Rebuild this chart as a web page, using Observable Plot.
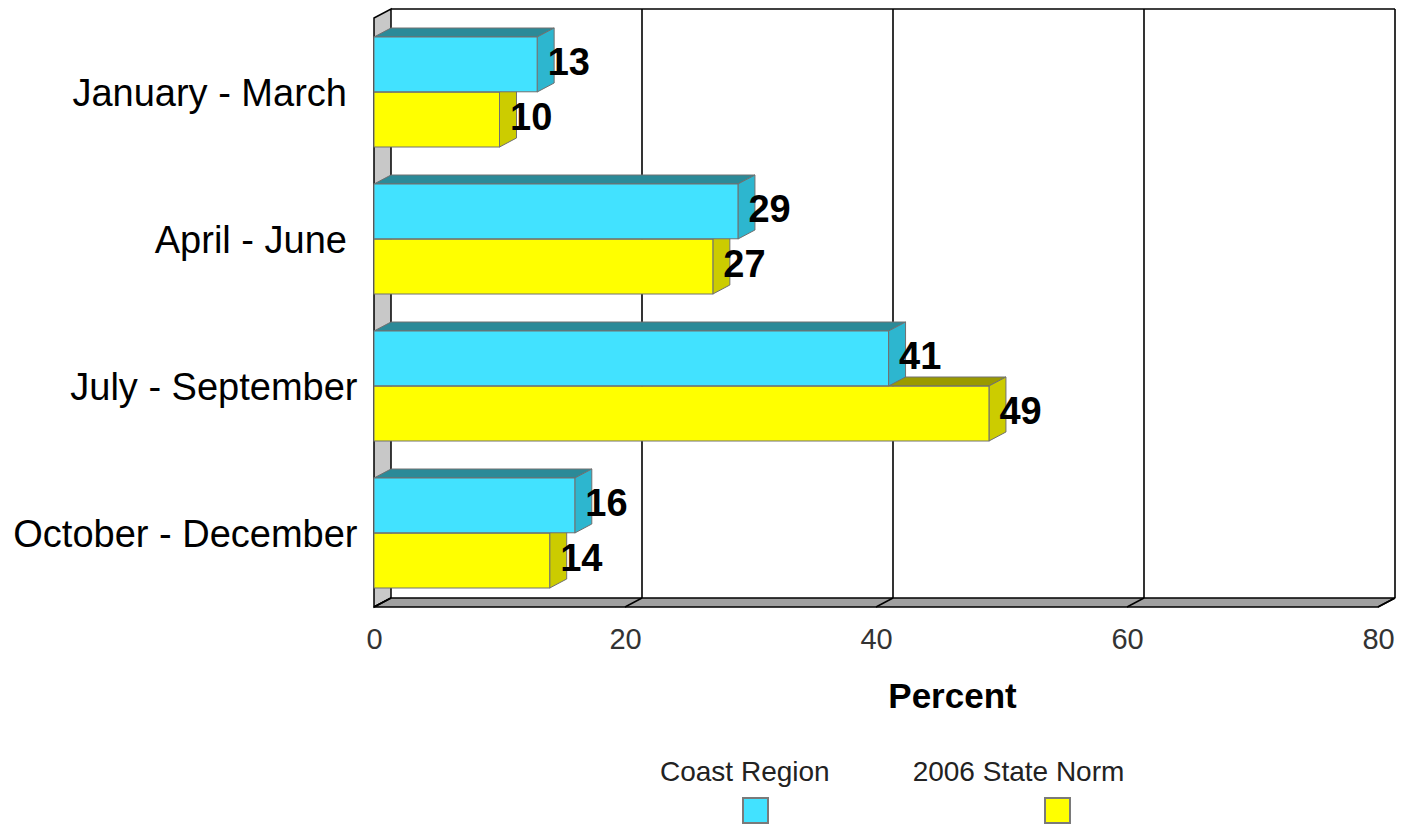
<!DOCTYPE html>
<html><head><meta charset="utf-8">
<script src="https://cdn.jsdelivr.net/npm/d3@7"></script>
<script src="https://cdn.jsdelivr.net/npm/@observablehq/plot@0.6"></script>
<style>
body{margin:0;background:#fff;font-family:"Liberation Sans",Arial,sans-serif;}
#legendText{display:flex;padding-left:660px;gap:83px;margin-top:11px;font-size:28px;color:#222;line-height:32px;}
#legendSw{display:flex;padding-left:742px;gap:275px;margin-top:9px;}
.sw{width:23px;height:23px;border:2px solid #7a7a7a;}
</style></head><body><div id="chart"></div><div id="legendText"></div><div id="legendSw"></div>
<script>
// ---- data ----
const categories = ["January - March\u00a0", "April - June\u00a0", "July - September", "October - December"];
const seriesNames = ["Coast Region", "2006 State Norm"];
const coastValues = [13, 29, 41, 16];
const normValues = [10, 27, 49, 14];
const xTicks = [0, 20, 40, 60, 80];
const xLabel = "Percent";

// ---- style options ----
const frontColors = ["#42e2ff", "#ffff00"];
const topColors = ["#2b8a98", "#9a9a00"];
const sideColors = ["#2db6cf", "#cccc00"];
const DX = 17, DY = -9;
const W = 1403, H = 745, mTop = 18, mBottom = 138, mLeft = 374, mRight = 25;
const padIn = 0.25, padOut = 0.125;
const step = (H - mTop - mBottom) / (categories.length - padIn + 2 * padOut);
const bw = step * (1 - padIn);

const data = [];
categories.forEach((c, i) => {
  data.push({category: c, series: seriesNames[0], value: coastValues[i]});
  data.push({category: c, series: seriesNames[1], value: normValues[i]});
});

function backdrop(index, scales, values, dim) {
  const x = scales.x;
  const y0 = dim.marginTop, y1 = dim.height - dim.marginBottom;
  const xa = x(xTicks[0]), xb = x(xTicks[xTicks.length - 1]);
  const g = d3.create("svg:g");
  for (const t of xTicks.slice(1)) {
    g.append("line").attr("x1", x(t) + DX).attr("x2", x(t) + DX)
      .attr("y1", y0 + DY).attr("y2", y1 + DY).attr("stroke", "#000").attr("stroke-width", 1.6);
  }
  g.append("line").attr("x1", xa + DX).attr("x2", xb + DX).attr("y1", y0 + DY).attr("y2", y0 + DY)
    .attr("stroke", "#000").attr("stroke-width", 1.6);
  g.append("path").attr("d", `M${xa},${y0}L${xa + DX},${y0 + DY}L${xa + DX},${y1 + DY}L${xa},${y1}Z`)
    .attr("fill", "#c8c8c8").attr("stroke", "#000").attr("stroke-width", 1.5);
  g.append("path").attr("d", `M${xa},${y1}L${xa + DX},${y1 + DY}L${xb + DX},${y1 + DY}L${xb},${y1}Z`)
    .attr("fill", "#a0a0a0").attr("stroke", "#000").attr("stroke-width", 1.5);
  for (const t of xTicks) {
    g.append("line").attr("x1", x(t)).attr("x2", x(t) + DX).attr("y1", y1).attr("y2", y1 + DY)
      .attr("stroke", "#000").attr("stroke-width", 1.5);
  }
  return g.node();
}

function faces(index, scales, values, dim) {
  const {x, y} = scales;
  const band = typeof y.bandwidth === "function" ? y.bandwidth() : y.bandwidth;
  const g = d3.create("svg:g").attr("stroke", "#707070").attr("stroke-width", 1);
  for (const s of [1, 0]) {
    const vals = s === 1 ? normValues : coastValues;
    categories.forEach((c, i) => {
      const x0 = x(0), x1 = x(vals[i]);
      const yt = y(c) + (s === 1 ? band / 2 : 0), yb = yt + band / 2;
      g.append("path").attr("fill", topColors[s])
        .attr("d", `M${x0},${yt}L${x0 + DX},${yt + DY}L${x1 + DX},${yt + DY}L${x1},${yt}Z`);
      g.append("path").attr("fill", sideColors[s])
        .attr("d", `M${x1},${yt}L${x1 + DX},${yt + DY}L${x1 + DX},${yb + DY}L${x1},${yb}Z`);
    });
  }
  return g.node();
}

const plot = Plot.plot({
  width: W, height: H,
  marginTop: mTop, marginBottom: mBottom, marginLeft: mLeft, marginRight: mRight,
  style: {fontFamily: "'Liberation Sans', Arial, sans-serif", background: "#fff", overflow: "visible"},
  x: {domain: [xTicks[0], xTicks[xTicks.length - 1]], axis: null},
  y: {type: "band", domain: categories, paddingInner: padIn, paddingOuter: padOut, axis: null},
  color: {domain: seriesNames, range: frontColors},
  marks: [
    backdrop,
    faces,
    Plot.barX(data.filter(d => d.series === seriesNames[1]), {x: "value", y: "category", fill: "series", stroke: "#707070", strokeWidth: 1, insetTop: bw / 2}),
    Plot.barX(data.filter(d => d.series === seriesNames[0]), {x: "value", y: "category", fill: "series", stroke: "#707070", strokeWidth: 1, insetBottom: bw / 2}),
    Plot.text(data.filter(d => d.series === seriesNames[0]), {x: "value", y: "category", text: d => String(d.value), dx: 10, dy: -bw / 4 - 2, textAnchor: "start", fontSize: 38, fontWeight: "bold", fill: "#000"}),
    Plot.text(data.filter(d => d.series === seriesNames[1]), {x: "value", y: "category", text: d => String(d.value), dx: 10, dy: bw / 4 - 2, textAnchor: "start", fontSize: 38, fontWeight: "bold", fill: "#000"}),
    Plot.axisX({ticks: xTicks, tickSize: 0, tickPadding: 21, fontSize: 29, fill: "#333", label: null}),
    Plot.axisY({tickSize: 0, tickPadding: 17, fontSize: 38, dy: 1, fill: "#000", label: null}),
    Plot.text([xLabel], {frameAnchor: "bottom", dx: 76, dy: 100, fontSize: 35, fontWeight: "bold", fill: "#000"})
  ]
});
document.getElementById("chart").appendChild(plot);

const legendText = d3.select("#legendText");
const legendSw = d3.select("#legendSw");
seriesNames.forEach((s, i) => {
  legendText.append("div").text(s);
  legendSw.append("div").attr("class", "sw").style("background", frontColors[i]);
});
</script></body></html>
